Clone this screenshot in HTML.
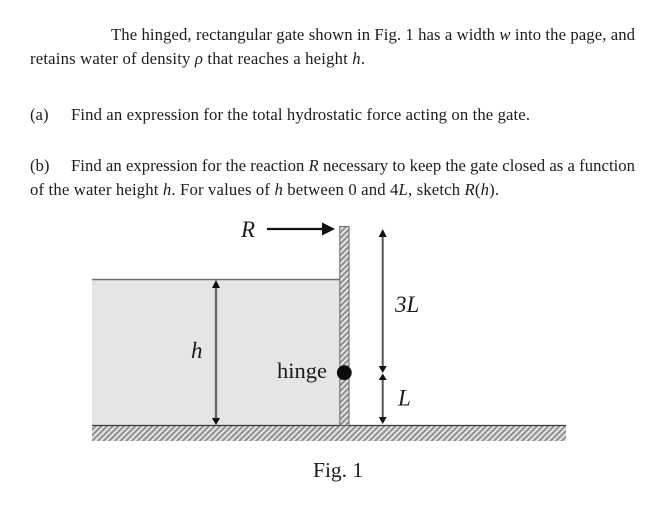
<!DOCTYPE html>
<html>
<head>
<meta charset="utf-8">
<style>
html,body{margin:0;padding:0;background:#fff;width:651px;height:521px;overflow:hidden}
svg{display:block}
text{font-family:"Liberation Serif",serif;fill:#1c1c1c}
.t{font-size:16.7px}
.d{font-size:22.5px}
.l{font-size:23px;font-style:italic}
.f{font-size:21.5px}
.i{font-style:italic}
</style>
</head>
<body>
<svg width="651" height="521" viewBox="0 0 651 521" xmlns="http://www.w3.org/2000/svg">
<defs>
<pattern id="hatch" width="4" height="4" patternUnits="userSpaceOnUse" patternTransform="rotate(45)">
<rect width="4" height="4" fill="#e6e6e6"/>
<rect width="2" height="4" fill="#8f8f8f"/>
</pattern>
</defs>

<text class="t" x="111" y="40" textLength="524">The hinged, rectangular gate shown in Fig. 1 has a width <tspan class="i">w</tspan> into the page, and</text>
<text class="t" x="30" y="64" textLength="335">retains water of density <tspan class="i">ρ</tspan> that reaches a height <tspan class="i">h</tspan>.</text>
<text class="t" x="30" y="120">(a)</text>
<text class="t" x="71" y="120" textLength="459">Find an expression for the total hydrostatic force acting on the gate.</text>
<text class="t" x="30" y="171">(b)</text>
<text class="t" x="71" y="171" textLength="564">Find an expression for the reaction <tspan class="i">R</tspan> necessary to keep the gate closed as a function</text>
<text class="t" x="30" y="195" textLength="469">of the water height <tspan class="i">h</tspan>. For values of <tspan class="i">h</tspan> between 0 and 4<tspan class="i">L</tspan>, sketch <tspan class="i">R</tspan>(<tspan class="i">h</tspan>).</text>

<!-- water -->
<rect x="92" y="279" width="248" height="147" fill="#e5e5e5"/>
<line x1="92" y1="279.5" x2="340" y2="279.5" stroke="#6e6e6e" stroke-width="1.5"/>

<!-- ground -->
<rect x="92" y="426" width="474" height="15" fill="url(#hatch)"/>
<line x1="92" y1="425.5" x2="566" y2="425.5" stroke="#3a3a3a" stroke-width="1.3"/>

<!-- gate -->
<rect x="339.800" y="226.500" width="9.200" height="199" fill="url(#hatch)" stroke="#666" stroke-width="1"/>

<!-- R arrow -->
<line x1="267" y1="229" x2="324" y2="229" stroke="#111" stroke-width="2.200"/>
<polygon points="322,222.500 335,229 322,235.500" fill="#111"/>

<!-- h arrow -->
<line x1="216" y1="285" x2="216" y2="420" stroke="#666" stroke-width="2.400"/>
<polygon points="212,288 216,280 220,288" fill="#111"/>
<polygon points="212,418 216,425 220,418" fill="#111"/>

<!-- 3L arrow -->
<line x1="382.700" y1="235" x2="382.700" y2="366" stroke="#555" stroke-width="2"/>
<polygon points="378.700,237 382.700,229 386.700,237" fill="#111"/>
<polygon points="378.700,366 382.700,373 386.700,366" fill="#111"/>

<!-- L arrow -->
<line x1="382.700" y1="378" x2="382.700" y2="418" stroke="#555" stroke-width="2"/>
<polygon points="378.700,380 382.700,373.500 386.700,380" fill="#111"/>
<polygon points="378.700,417 382.700,424 386.700,417" fill="#111"/>

<!-- hinge -->
<circle cx="344.300" cy="372.700" r="7.400" fill="#0c0c0c"/>

<!-- labels -->
<text class="l" x="241" y="237">R</text>
<text class="l" x="191" y="358">h</text>
<text class="d" x="277" y="378">hinge</text>
<text class="l" x="395" y="312">3L</text>
<text class="l" x="398" y="405.500">L</text>
<text class="f" x="313" y="477">Fig. 1</text>
</svg>
</body>
</html>
